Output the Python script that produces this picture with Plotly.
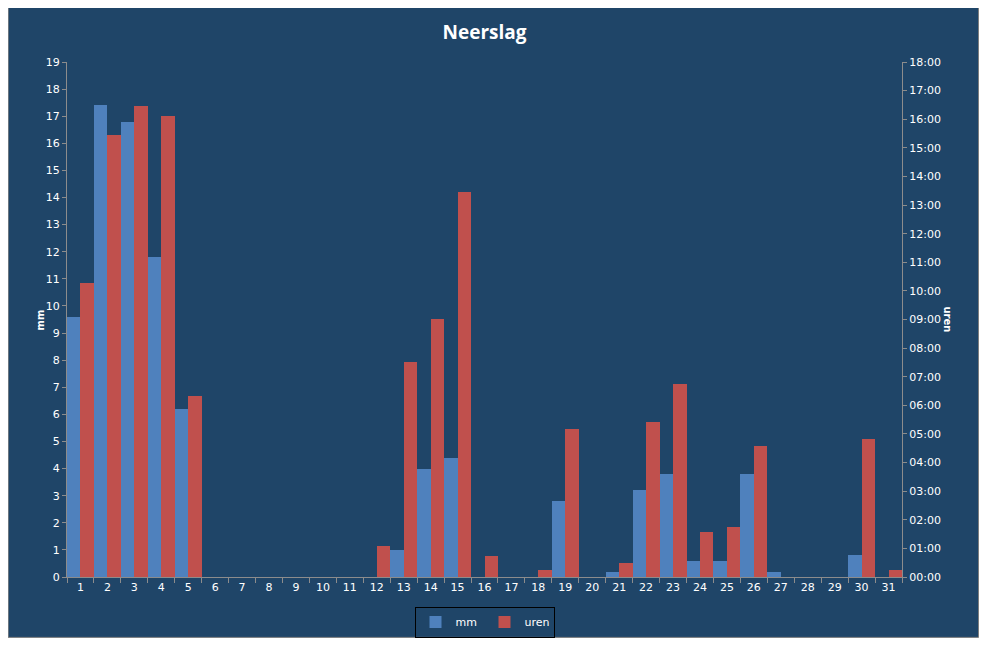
import plotly.graph_objects as go

days = [str(d) for d in range(1, 32)]
mm = [9.6, 17.4, 16.8, 11.8, 6.2, 0, 0, 0, 0, 0, 0, 0, 1.0, 4.0, 4.4, 0, 0, 0, 2.8, 0,
      0.2, 3.2, 3.8, 0.6, 0.6, 3.8, 0.2, 0, 0, 0.8, 0]
uren = [10.28, 15.45, 16.47, 16.12, 6.33, 0, 0, 0, 0, 0, 0, 1.08, 7.52, 9.02, 13.46, 0.73, 0, 0.25, 5.17, 0,
        0.5, 5.42, 6.75, 1.58, 1.75, 4.58, 0, 0, 0, 4.83, 0.25]
hour_ticks = list(range(0, 19))
hour_labels = ["%02d:00" % h for h in hour_ticks]

OFF = 8  # page body margin
W, H = 987 - 2 * OFF, 630
L, R, T, B = 67 - OFF, 902 - OFF, 62 - OFF, 577 - OFF
pw, ph = R - L, B - T
bg = "rgb(31,69,104)"
axc = "#8C8C8C"
font = "DejaVu Sans"

def px(x):
    return (x - OFF - L) / pw

def py(y):
    return (B - (y - OFF)) / ph

fig = go.Figure()
fig.add_trace(go.Bar(x=days, y=mm, name="mm", marker_color="#4F81BD", marker_line_width=0,
                     offsetgroup="1", yaxis="y"))
fig.add_trace(go.Bar(x=days, y=uren, name="uren", marker_color="#C0504D", marker_line_width=0,
                     offsetgroup="2", yaxis="y2"))

fig.update_layout(
    width=W, height=H,
    margin=dict(l=L, r=W - R, t=T, b=H - B, autoexpand=False),
    paper_bgcolor="white",
    plot_bgcolor="rgba(0,0,0,0)",
    barmode="group", bargap=0, bargroupgap=0,
    title=dict(text="<b>Neerslag</b>", x=0.5, xref="paper", xanchor="center",
               y=1 - (32 - OFF) / H, yanchor="middle",
               font=dict(family="Open Sans", size=19, color="white")),
    font=dict(family=font, size=11, color="white"),
    xaxis=dict(type="category", tickson="boundaries", ticks="outside", ticklen=5,
               tickcolor=axc, showline=True, linecolor=axc, linewidth=1, showgrid=False,
               tickfont=dict(family=font, size=11, color="white"), zeroline=False),
    yaxis=dict(range=[0, 19], dtick=1, tick0=0, ticks="outside", ticklen=4, tickcolor=axc,
               showline=True, linecolor=axc, showgrid=False, zeroline=False,
               tickfont=dict(family=font, size=11, color="white")),
    yaxis2=dict(range=[0, 18], overlaying="y", side="right", tickvals=hour_ticks,
                ticktext=hour_labels, ticks="outside", ticklen=4, tickcolor=axc,
                showline=True, linecolor=axc, showgrid=False, zeroline=False,
                tickfont=dict(family=font, size=11, color="white")),
    legend=dict(orientation="h", x=0.5, xanchor="center", xref="paper",
                y=py(622), yanchor="middle", bgcolor="rgba(0,0,0,0)",
                bordercolor="black", borderwidth=1,
                font=dict(family=font, size=11, color="white"),
                itemwidth=30, traceorder="normal", tracegroupgap=0,
                entrywidth=24, entrywidthmode="pixels"),
    shapes=[dict(type="rect", xref="paper", yref="paper", layer="below",
                 x0=-L / pw + 0.0002, x1=px(978.5),
                 y0=-(H - B) / ph + 0.0012, y1=py(5),
                 fillcolor=bg, line=dict(color="#7F7F7F", width=1))],
    annotations=[
        dict(text="<b>mm</b>", xref="paper", yref="paper", x=px(32), y=py(320),
             textangle=-90, showarrow=False, font=dict(family=font, size=10, color="white")),
        dict(text="<b>uren</b>", xref="paper", yref="paper", x=px(955), y=py(320),
             textangle=90, showarrow=False, font=dict(family=font, size=10, color="white")),
    ],
)

fig.write_html("out.html")
